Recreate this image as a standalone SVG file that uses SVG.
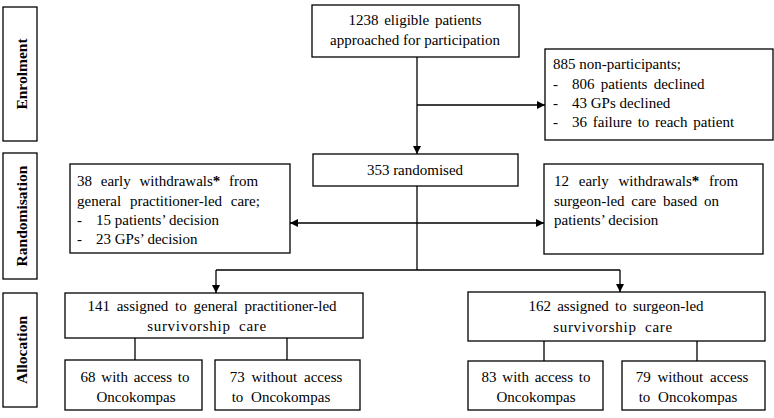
<svg xmlns="http://www.w3.org/2000/svg" width="774" height="418" viewBox="0 0 774 418">
<style>
  .box { fill: #fff; stroke: #000; stroke-width: 1.3; }
  .ln { fill: none; stroke: #000; stroke-width: 1.3; }
  text { font-family: "Liberation Serif", "Times New Roman", serif; font-size: 15px; fill: #000; }
  .c { text-anchor: middle; }
  .side { font-weight: bold; font-size: 15.5px; text-anchor: middle; }
  .ast { font-weight: bold; }
  .surv { letter-spacing: 0.7px; word-spacing: 4px; }
</style>
<defs>
  <marker id="ah" markerUnits="userSpaceOnUse" markerWidth="10" markerHeight="10" refX="8" refY="4" orient="auto">
    <path d="M0,0 L8,4 L0,8 Z" fill="#000"/>
  </marker>
</defs>
<rect width="774" height="418" fill="#fff"/>

<g id="stage-enrolment">
  <rect class="box" x="3" y="7" width="34" height="134"/>
  <text class="side" transform="translate(27,74) rotate(-90)">Enrolment</text>
</g>
<g id="stage-randomisation">
  <rect class="box" x="3" y="153" width="34" height="126"/>
  <text class="side" transform="translate(27,216) rotate(-90)">Randomisation</text>
</g>
<g id="stage-allocation">
  <rect class="box" x="3" y="293" width="34" height="114"/>
  <text class="side" transform="translate(27,350) rotate(-90)">Allocation</text>
</g>

<g id="connectors">
  <line class="ln" x1="417" y1="57" x2="417" y2="154" marker-end="url(#ah)"/>
  <line class="ln" x1="417" y1="105" x2="545" y2="105" marker-end="url(#ah)"/>
  <line class="ln" x1="417" y1="186" x2="417" y2="270"/>
  <line class="ln" x1="417" y1="223" x2="290" y2="223" marker-end="url(#ah)"/>
  <line class="ln" x1="417" y1="223" x2="544" y2="223" marker-end="url(#ah)"/>
  <line class="ln" x1="216" y1="270" x2="620" y2="270"/>
  <line class="ln" x1="216" y1="270" x2="216" y2="293" marker-end="url(#ah)"/>
  <line class="ln" x1="620" y1="270" x2="620" y2="292" marker-end="url(#ah)"/>
  <line class="ln" x1="135" y1="338" x2="135" y2="360"/>
  <line class="ln" x1="287" y1="338" x2="287" y2="360"/>
  <line class="ln" x1="544" y1="341" x2="544" y2="361"/>
  <line class="ln" x1="697" y1="341" x2="697" y2="361"/>
</g>

<g id="eligible">
  <rect class="box" x="312" y="5" width="207" height="52"/>
  <text class="c" x="415" y="25" word-spacing="2">1238 eligible patients</text>
  <text class="c" x="415" y="45">approached for participation</text>
</g>
<g id="non-participants">
  <rect class="box" x="545" y="49" width="228" height="91"/>
  <text x="553" y="69">885 non-participants;</text>
  <text x="553" y="89">-</text><text x="572" y="89" word-spacing="2.5">806 patients declined</text>
  <text x="553" y="108">-</text><text x="572" y="108">43 GPs declined</text>
  <text x="553" y="127">-</text><text x="572" y="127" word-spacing="2">36 failure to reach patient</text>
</g>
<g id="randomised">
  <rect class="box" x="313" y="154" width="205" height="32"/>
  <text class="c" x="415" y="175">353 randomised</text>
</g>
<g id="withdrawals-gp">
  <rect class="box" x="70" y="164" width="220" height="89"/>
  <text x="77" y="186" word-spacing="5">38 early withdrawals<tspan class="ast">*</tspan> from</text>
  <text x="77" y="206" word-spacing="5">general practitioner-led care;</text>
  <text x="77" y="225">-</text><text x="96" y="225">15 patients’ decision</text>
  <text x="77" y="244">-</text><text x="96" y="244">23 GPs’ decision</text>
</g>
<g id="withdrawals-surgeon">
  <rect class="box" x="544" y="164" width="219" height="90"/>
  <text x="554" y="186" word-spacing="6">12 early withdrawals<tspan class="ast">*</tspan> from</text>
  <text x="554" y="206" word-spacing="3">surgeon-led care based on</text>
  <text x="554" y="225">patients’ decision</text>
</g>
<g id="gp-led">
  <rect class="box" x="65" y="293" width="298" height="45"/>
  <text class="c" x="212" y="311" word-spacing="3">141 assigned to general practitioner-led</text>
  <text class="c surv" x="207" y="331">survivorship care</text>
</g>
<g id="surgeon-led">
  <rect class="box" x="468" y="292" width="297" height="49"/>
  <text class="c" x="616" y="311" word-spacing="2.5">162 assigned to surgeon-led</text>
  <text class="c surv" x="613" y="332">survivorship care</text>
</g>
<g id="gp-with">
  <rect class="box" x="65" y="360" width="137" height="50"/>
  <text class="c" x="135" y="382" word-spacing="2">68 with access to</text>
  <text class="c" x="136" y="402">Oncokompas</text>
</g>
<g id="gp-without">
  <rect class="box" x="215" y="360" width="145" height="50"/>
  <text class="c" x="286" y="382" word-spacing="3">73 without access</text>
  <text class="c" x="281" y="402" word-spacing="4">to Oncokompas</text>
</g>
<g id="surgeon-with">
  <rect class="box" x="468" y="361" width="135" height="49"/>
  <text class="c" x="536" y="382" word-spacing="2">83 with access to</text>
  <text class="c" x="536" y="402">Oncokompas</text>
</g>
<g id="surgeon-without">
  <rect class="box" x="622" y="361" width="143" height="49"/>
  <text class="c" x="692" y="382" word-spacing="3">79 without access</text>
  <text class="c" x="688" y="402" word-spacing="4">to Oncokompas</text>
</g>
</svg>
